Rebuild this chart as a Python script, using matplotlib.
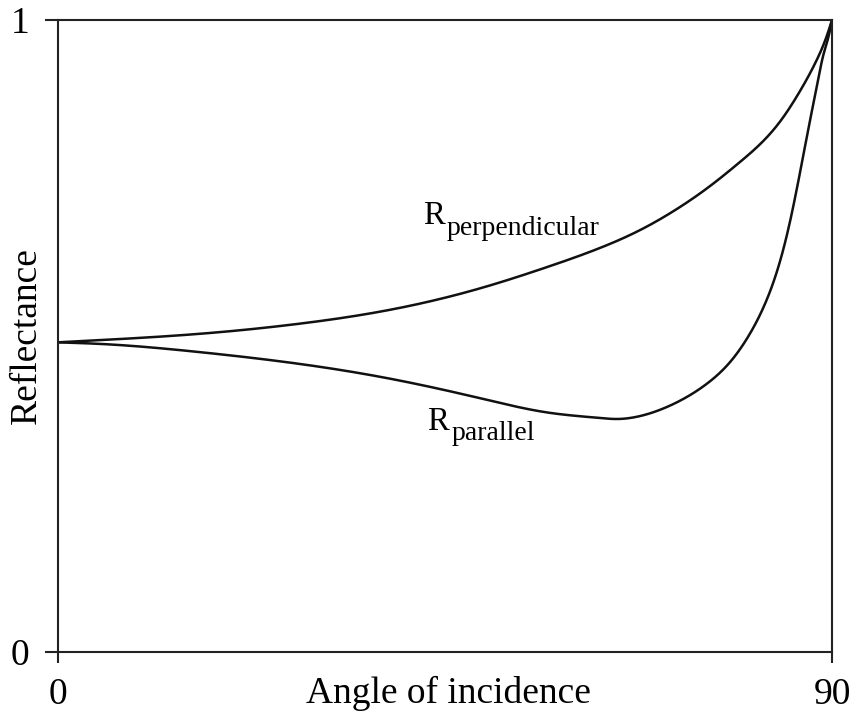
import numpy as np
import matplotlib.pyplot as plt

# reflectance vs angle of incidence (degrees), read point by point
angle_perp = [0, 4.9, 16.5, 28.1, 37.4, 49.1, 56.9, 63.0, 67.7, 71.5, 75.5, 79.3,
              81.6, 84.0, 86.3, 88.2, 89.4, 90]
r_perp = [0.490, 0.4935, 0.5035, 0.5195, 0.5384, 0.5755, 0.6092, 0.6392, 0.6677, 0.697,
          0.734, 0.7753, 0.803, 0.840, 0.888, 0.936, 0.975, 1.0]

angle_par = [0, 4.9, 16.5, 25.8, 37.4, 49.1, 56.9, 63.0, 65.1, 67.7, 71.5, 75.5, 78.1,
             80.5, 82.4, 84.0, 85.1, 86.3, 87.4, 88.2, 89.0, 89.6, 90]
r_par = [0.490, 0.4875, 0.4745, 0.4600, 0.4356, 0.4015, 0.3790, 0.3703, 0.3687, 0.3734,
         0.392, 0.425, 0.458, 0.5047, 0.557, 0.6203, 0.680, 0.760, 0.838, 0.893,
         0.945, 0.974, 1.0]

x_ticks = [0, 90]
y_ticks = [0, 1]


def spline(x, y, xs):
    # natural cubic spline through the read points, for a smooth stroke
    x = np.asarray(x, float)
    y = np.asarray(y, float)
    n = len(x)
    h = np.diff(x)
    A = np.zeros((n, n))
    b = np.zeros(n)
    A[0, 0] = A[-1, -1] = 1.0
    for i in range(1, n - 1):
        A[i, i - 1] = h[i - 1]
        A[i, i] = 2 * (h[i - 1] + h[i])
        A[i, i + 1] = h[i]
        b[i] = 6 * ((y[i + 1] - y[i]) / h[i] - (y[i] - y[i - 1]) / h[i - 1])
    M = np.linalg.solve(A, b)
    idx = np.clip(np.searchsorted(x, xs) - 1, 0, n - 2)
    hi = h[idx]
    a = x[idx + 1] - xs
    c = xs - x[idx]
    return (M[idx] * a**3 / (6 * hi) + M[idx + 1] * c**3 / (6 * hi)
            + (y[idx] / hi - M[idx] * hi / 6) * a + (y[idx + 1] / hi - M[idx + 1] * hi / 6) * c)


plt.rcParams['font.family'] = ['Liberation Serif', 'DejaVu Serif']

fig = plt.figure(figsize=(8.55, 7.14), dpi=100)
ax = fig.add_axes([0.0678, 0.0868, 0.9053, 0.8852])

xs = np.linspace(0, 90, 900)
ax.plot(xs, spline(angle_perp, r_perp, xs), color='#111111', lw=1.8)
ax.plot(xs, spline(angle_par, r_par, xs), color='#111111', lw=1.8)

ax.set_xlim(0, 90)
ax.set_ylim(0, 1)
ax.set_xticks(x_ticks)
ax.set_yticks(y_ticks)
ax.set_xticklabels([str(v) for v in x_ticks])
ax.set_yticklabels([str(v) for v in y_ticks])
ax.tick_params(axis='x', direction='out', length=8, width=1.5, pad=10, labelsize=27, colors='#222222', labelcolor='black')
ax.tick_params(axis='y', direction='out', length=9.5, width=1.5, pad=11, labelsize=27, colors='#222222', labelcolor='black')
for s in ax.spines.values():
    s.set_linewidth(1.5)
    s.set_color('#222222')

ax.set_xlabel('Angle of incidence', fontsize=27, va='baseline')
ax.xaxis.set_label_coords(0.505, -0.0807)
ax.set_ylabel('Reflectance', fontsize=27, va='center')
ax.yaxis.set_label_coords(-0.041, 0.50)

# curve labels with hand-placed subscripts
ax.text(42.4, 0.678, 'R', fontsize=23.5, va='baseline', ha='left')
ax.text(45.2, 0.660, 'perpendicular', fontsize=20, va='baseline', ha='left')
ax.text(42.9, 0.351, 'R', fontsize=23.5, va='baseline', ha='left')
ax.text(45.8, 0.335, 'parallel', fontsize=20, va='baseline', ha='left')

fig.savefig('out.png', dpi=100)
